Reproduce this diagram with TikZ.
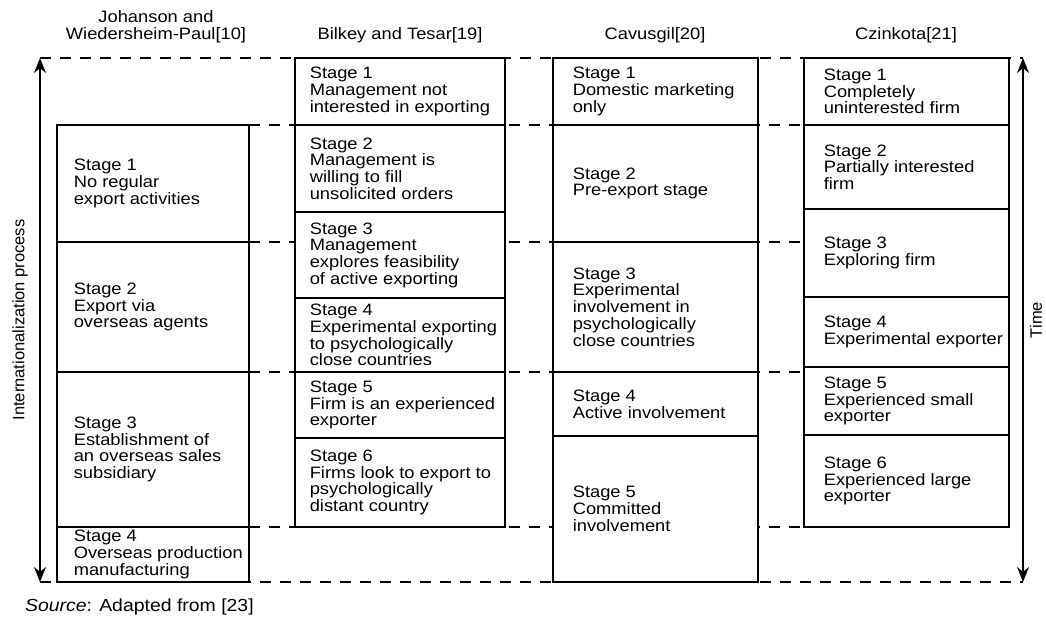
\documentclass[tikz,border=0pt]{standalone}
\usepackage{fontspec}
\setmainfont{Liberation Sans}[FakeStretch=1.11]
\newfontfamily\rotfont{Liberation Sans}
\usetikzlibrary{arrows.meta,backgrounds}

\begin{document}
\begin{tikzpicture}[x=1pt, y=-1pt, >={Stealth[length=15pt, width=12pt]}, line width=1.6pt,
		every node/.style={font=\fontsize{16.5}{16.7}\selectfont},
		stagebox/.style={draw, fill=white, anchor=north west, inner sep=0pt, outer sep=0pt},
		stagetext/.style={anchor=west, align=left, inner sep=0pt},
		levelline/.style={dash pattern=on 11pt off 9pt, line width=1.2pt},
		timearrow/.style={<->, line width=1.4pt}]
				% 国际化过程阶段模型对比图
				\useasboundingbox (0,0) rectangle (1046,621);
				
				\node[align=center] (jwhead) at (156,27) {Johanson and\\Wiedersheim-Paul[10]};
				\node (bthead) at (400,35) {Bilkey and Tesar[19]};
				\node (cvhead) at (655,35) {Cavusgil[20]};
				\node (czhead) at (906,35) {Czinkota[21]};
				
				\node[stagebox, minimum width=192pt, minimum height=117pt] (jw1) at (57,125) {};
				\node[stagebox, minimum width=192pt, minimum height=130pt] (jw2) at (57,242) {};
				\node[stagebox, minimum width=192pt, minimum height=155pt] (jw3) at (57,372) {};
				\node[stagebox, minimum width=192pt, minimum height=55pt] (jw4) at (57,527) {};
				\node[stagetext] (jw1t) at ([xshift=16pt]jw1.west) {Stage 1\\No regular\\export activities};
				\node[stagetext] (jw2t) at ([xshift=16pt]jw2.west) {Stage 2\\Export via\\overseas agents};
				\node[stagetext] (jw3t) at ([xshift=16pt]jw3.west) {Stage 3\\Establishment of\\an overseas sales\\subsidiary};
				\node[stagetext] (jw4t) at ([xshift=16pt]jw4.west) {Stage 4\\Overseas production\\manufacturing};
				
				\node[stagebox, minimum width=210pt, minimum height=67pt] (bt1) at (295,58) {};
				\node[stagebox, minimum width=210pt, minimum height=87pt] (bt2) at (295,125) {};
				\node[stagebox, minimum width=210pt, minimum height=86pt] (bt3) at (295,212) {};
				\node[stagebox, minimum width=210pt, minimum height=74pt] (bt4) at (295,298) {};
				\node[stagebox, minimum width=210pt, minimum height=66pt] (bt5) at (295,372) {};
				\node[stagebox, minimum width=210pt, minimum height=89pt] (bt6) at (295,438) {};
				\node[stagetext] (bt1t) at ([xshift=14pt]bt1.west) {Stage 1\\Management not\\interested in exporting};
				\node[stagetext] (bt2t) at ([xshift=14pt]bt2.west) {Stage 2\\Management is\\willing to fill\\unsolicited orders};
				\node[stagetext] (bt3t) at ([xshift=14pt]bt3.west) {Stage 3\\Management\\explores feasibility\\of active exporting};
				\node[stagetext] (bt4t) at ([xshift=14pt]bt4.west) {Stage 4\\Experimental exporting\\to psychologically\\close countries};
				\node[stagetext] (bt5t) at ([xshift=14pt]bt5.west) {Stage 5\\Firm is an experienced\\exporter};
				\node[stagetext] (bt6t) at ([xshift=14pt]bt6.west) {Stage 6\\Firms look to export to\\psychologically\\distant country};
				
				\node[stagebox, minimum width=205pt, minimum height=67pt] (cv1) at (553,58) {};
				\node[stagebox, minimum width=205pt, minimum height=117pt] (cv2) at (553,125) {};
				\node[stagebox, minimum width=205pt, minimum height=130pt] (cv3) at (553,242) {};
				\node[stagebox, minimum width=205pt, minimum height=64pt] (cv4) at (553,372) {};
				\node[stagebox, minimum width=205pt, minimum height=146pt] (cv5) at (553,436) {};
				\node[stagetext] (cv1t) at ([xshift=19pt]cv1.west) {Stage 1\\Domestic marketing\\only};
				\node[stagetext] (cv2t) at ([xshift=19pt]cv2.west) {Stage 2\\Pre-export stage};
				\node[stagetext] (cv3t) at ([xshift=19pt]cv3.west) {Stage 3\\Experimental\\involvement in\\psychologically\\close countries};
				\node[stagetext] (cv4t) at ([xshift=19pt]cv4.west) {Stage 4\\Active involvement};
				\node[stagetext] (cv5t) at ([xshift=19pt]cv5.west) {Stage 5\\Committed\\involvement};
				
				\node[stagebox, minimum width=205pt, minimum height=67pt] (cz1) at (804,58) {};
				\node[stagebox, minimum width=205pt, minimum height=84pt] (cz2) at (804,125) {};
				\node[stagebox, minimum width=205pt, minimum height=88pt] (cz3) at (804,209) {};
				\node[stagebox, minimum width=205pt, minimum height=70pt] (cz4) at (804,297) {};
				\node[stagebox, minimum width=205pt, minimum height=68pt] (cz5) at (804,367) {};
				\node[stagebox, minimum width=205pt, minimum height=92pt] (cz6) at (804,435) {};
				\node[stagetext] (cz1t) at ([xshift=19pt]cz1.west) {Stage 1\\Completely\\uninterested firm};
				\node[stagetext] (cz2t) at ([xshift=19pt]cz2.west) {Stage 2\\Partially interested\\firm};
				\node[stagetext] (cz3t) at ([xshift=19pt]cz3.west) {Stage 3\\Exploring firm};
				\node[stagetext] (cz4t) at ([xshift=19pt]cz4.west) {Stage 4\\Experimental exporter};
				\node[stagetext] (cz5t) at ([xshift=19pt]cz5.west) {Stage 5\\Experienced small\\exporter};
				\node[stagetext] (cz6t) at ([xshift=19pt]cz6.west) {Stage 6\\Experienced large\\exporter};
				
				\coordinate (itop) at (40,58);
				\coordinate (ibot) at (40,582);
				\coordinate (ttop) at (1023,58);
				\coordinate (tbot) at (1023,582);
				
				\begin{scope}[on background layer]
					\draw[levelline] (itop) -- (ttop);
					\draw[levelline] (jw1.north east) -- (cz2.north west);
					\draw[levelline] (jw2.north east) -- (jw2.north east -| cz1.west);
					\draw[levelline] (jw3.north east) -- (jw3.north east -| cz1.west);
					\draw[levelline] (jw4.north east) -- (jw4.north east -| cz1.west);
					\draw[levelline] (ibot) -- (tbot);
				\end{scope}
				
				\draw[timearrow] (itop) -- (ibot);
				\draw[timearrow] (ttop) -- (tbot);
				\node[rotate=90, font=\rotfont\fontsize{16.5}{18}\selectfont] (intlab) at (20,320) {Internationalization process};
				\node[rotate=90, font=\rotfont\fontsize{16.5}{18}\selectfont] (timelab) at (1036,320) {Time};
				
				\node[anchor=west, font=\fontsize{17.5}{18}\selectfont] (src) at (21,607) {\textit{Source}: Adapted from [23]};
			\end{tikzpicture}
\end{document}
